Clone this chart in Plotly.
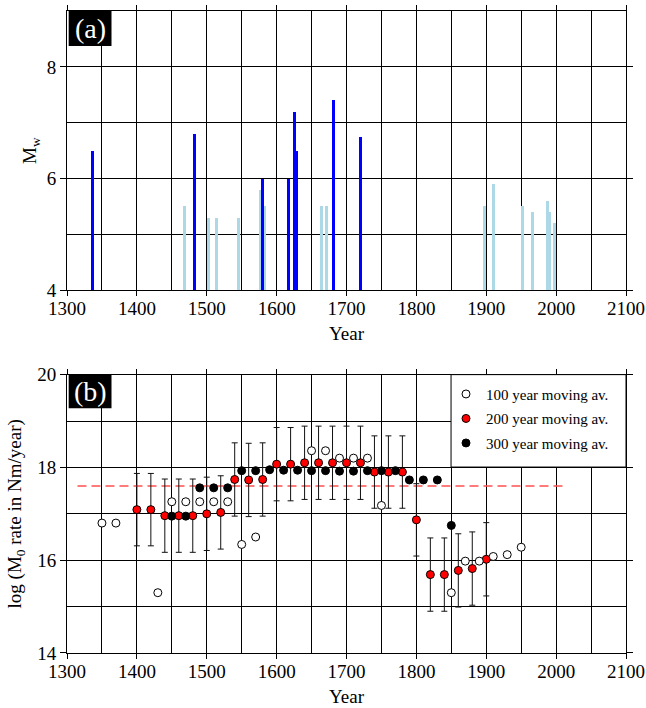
import plotly.graph_objects as go

# ---------------- Panel (a): earthquake magnitudes ----------------
major_years = [1337, 1483, 1580, 1617, 1625, 1628, 1682, 1720]
major_mw = [6.5, 6.8, 6.0, 6.0, 7.2, 6.5, 7.4, 6.75]
minor_years = [1468, 1502, 1514, 1545, 1577, 1583, 1664, 1672,
               1897, 1910, 1952, 1966, 1987, 1990, 1997]
minor_mw = [5.5, 5.3, 5.3, 5.3, 5.8, 5.5, 5.5, 5.5,
            5.5, 5.9, 5.5, 5.4, 5.6, 5.4, 5.2]

# ---------------- Panel (b): moment rate moving averages ----------------
avg100_years = [1350, 1370, 1430, 1450, 1470, 1490, 1510, 1530, 1550, 1570,
                1650, 1670, 1690, 1710, 1730, 1750, 1850, 1870, 1890, 1910,
                1930, 1950]
avg100_vals = [16.80, 16.80, 15.30, 17.26, 17.26, 17.26, 17.26, 17.26, 16.34, 16.50,
               18.36, 18.36, 18.20, 18.20, 18.20, 17.18, 15.30, 15.98, 15.98, 16.08,
               16.12, 16.28]

avg200_years = [1400, 1420, 1440, 1460, 1480, 1500, 1520, 1540, 1560, 1580,
                1600, 1620, 1640, 1660, 1680, 1700, 1720, 1740, 1760, 1780,
                1800, 1820, 1840, 1860, 1880, 1900]
avg200_vals = [17.09, 17.09, 16.96, 16.96, 16.96, 17.00, 17.03, 17.74, 17.73, 17.74,
               18.07, 18.07, 18.10, 18.10, 18.10, 18.10, 18.10, 17.90, 17.90, 17.90,
               16.87, 15.69, 15.69, 15.78, 15.82, 16.02]
avg200_err = [0.78, 0.78, 0.79, 0.79, 0.79, 0.79, 0.79, 0.79, 0.79, 0.79,
              0.79, 0.79, 0.79, 0.79, 0.79, 0.79, 0.79, 0.78, 0.78, 0.78,
              0.78, 0.79, 0.79, 0.79, 0.79, 0.79]

avg300_years = [1450, 1470, 1490, 1510, 1530, 1550, 1570, 1590, 1610, 1630,
                1650, 1670, 1690, 1710, 1730, 1750, 1770, 1790, 1810, 1830, 1850]
avg300_vals = [16.95, 16.95, 17.56, 17.56, 17.56, 17.93, 17.93, 17.95, 17.94, 17.94,
               17.93, 17.93, 17.92, 17.92, 17.93, 17.93, 17.93, 17.73, 17.73, 17.73, 16.75]

ref_level = 17.6
ref_years = [1315, 2015]

x_ticks = [1300, 1400, 1500, 1600, 1700, 1800, 1900, 2000, 2100]

FONT = "Liberation Serif"

fig = go.Figure()

# Panel (a) bars
fig.add_trace(go.Bar(x=minor_years, y=minor_mw, width=4.3, marker=dict(color="#add8e6", line=dict(width=0)),
                     xaxis="x", yaxis="y", showlegend=False))
fig.add_trace(go.Bar(x=major_years, y=major_mw, width=4.3, marker=dict(color="#0000ff", line=dict(width=0)),
                     xaxis="x", yaxis="y", showlegend=False))

# Panel (b)
fig.add_trace(go.Scatter(x=ref_years, y=[ref_level, ref_level], mode="lines",
                         line=dict(color="#ff5050", width=1.5, dash="9px,5px"),
                         xaxis="x2", yaxis="y2", showlegend=False, hoverinfo="skip"))
fig.add_trace(go.Scatter(x=avg200_years, y=avg200_vals, mode="markers",
                         name="200 year moving av.", legendrank=2, legendgroup="g2",
                         marker=dict(size=8, color="#ff0000", line=dict(color="black", width=1)),
                         error_y=dict(type="data", array=avg200_err, color="#111111", thickness=1, width=3),
                         xaxis="x2", yaxis="y2"))
fig.add_trace(go.Scatter(x=avg300_years, y=avg300_vals, mode="markers",
                         name="300 year moving av.", legendrank=3, legendgroup="g3",
                         marker=dict(size=8, color="#000000", line=dict(color="black", width=1)),
                         xaxis="x2", yaxis="y2"))
fig.add_trace(go.Scatter(x=avg100_years, y=avg100_vals, mode="markers",
                         name="100 year moving av.", legendrank=1, legendgroup="g1",
                         marker=dict(size=8, color="#ffffff", line=dict(color="black", width=1)),
                         xaxis="x2", yaxis="y2"))

axis_common = dict(
    showline=True, linecolor="black", linewidth=1, mirror="ticks",
    ticks="outside", tickcolor="black", tickwidth=1,
    showgrid=True, gridcolor="black", gridwidth=1,
    zeroline=False, automargin=False,
    tickfont=dict(family=FONT, size=19, color="black"),
)

xa = dict(axis_common, range=[1300, 2100], tickmode="array", tickvals=x_ticks, ticklen=5,
          ticklabelstandoff=-4,
          minor=dict(dtick=50, tick0=1300, showgrid=True, gridcolor="black", gridwidth=1, ticks=""),
          title=dict(text="Year", font=dict(family=FONT, size=19, color="black"), standoff=8))

fig.update_layout(
    width=646, height=708,
    margin=dict(l=67, r=20, t=11, b=55),
    template="none",
    paper_bgcolor="white", plot_bgcolor="white",
    barmode="overlay", bargap=0,
    xaxis=dict(xa, domain=[0, 1], anchor="y"),
    yaxis=dict(axis_common, domain=[0.565, 1], anchor="x", range=[4, 9], dtick=2, tick0=4, ticklen=6,
               minor=dict(dtick=1, tick0=4, showgrid=True, gridcolor="black", gridwidth=1, ticks=""),
               title=dict(text="M<sub>w</sub>", font=dict(family=FONT, size=19, color="black"), standoff=5)),
    xaxis2=dict(xa, domain=[0, 1], anchor="y2"),
    yaxis2=dict(axis_common, domain=[0, 0.4336], anchor="x2", range=[14, 20], dtick=2, tick0=14, ticklen=6,
                minor=dict(dtick=1, tick0=14, showgrid=True, gridcolor="black", gridwidth=1, ticks=""),
                title=dict(text="log (M<sub>0</sub> rate in Nm/year)", font=dict(family=FONT, size=19, color="black"),
                           standoff=10)),
    legend=dict(x=0.678, xanchor="left", y=0.4288, yanchor="top",
                bgcolor="rgba(0,0,0,0)", borderwidth=0,
                font=dict(family=FONT, size=15, color="black"),
                traceorder="grouped", tracegroupgap=2),
    showlegend=True,
    shapes=[
        dict(type="rect", xref="x2 domain", yref="y2 domain", x0=0.687, x1=1.0, y0=0.668, y1=1,
             fillcolor="white", line=dict(color="black", width=1), layer="above"),
        dict(type="rect", xref="x domain", yref="y domain", x0=0.003, x1=0.0796, y0=0.875, y1=1,
             fillcolor="black", line=dict(width=0), layer="above"),
        dict(type="rect", xref="x2 domain", yref="y2 domain", x0=0.003, x1=0.0796, y0=0.879, y1=1,
             fillcolor="black", line=dict(width=0), layer="above"),
    ],
    annotations=[
        dict(text="(a)", xref="x domain", yref="y domain", x=0.0413, y=0.9375, xanchor="center", yanchor="middle",
             showarrow=False, font=dict(family=FONT, size=28, color="white")),
        dict(text="(b)", xref="x2 domain", yref="y2 domain", x=0.0413, y=0.9395, xanchor="center", yanchor="middle",
             showarrow=False, font=dict(family=FONT, size=28, color="white")),
    ],
)

# remove the default 8px page margin so the figure fills the window exactly
fig.write_html("out.html",
               config={"displayModeBar": False},
               post_script="document.body.style.margin='0';document.body.style.overflow='hidden';")
